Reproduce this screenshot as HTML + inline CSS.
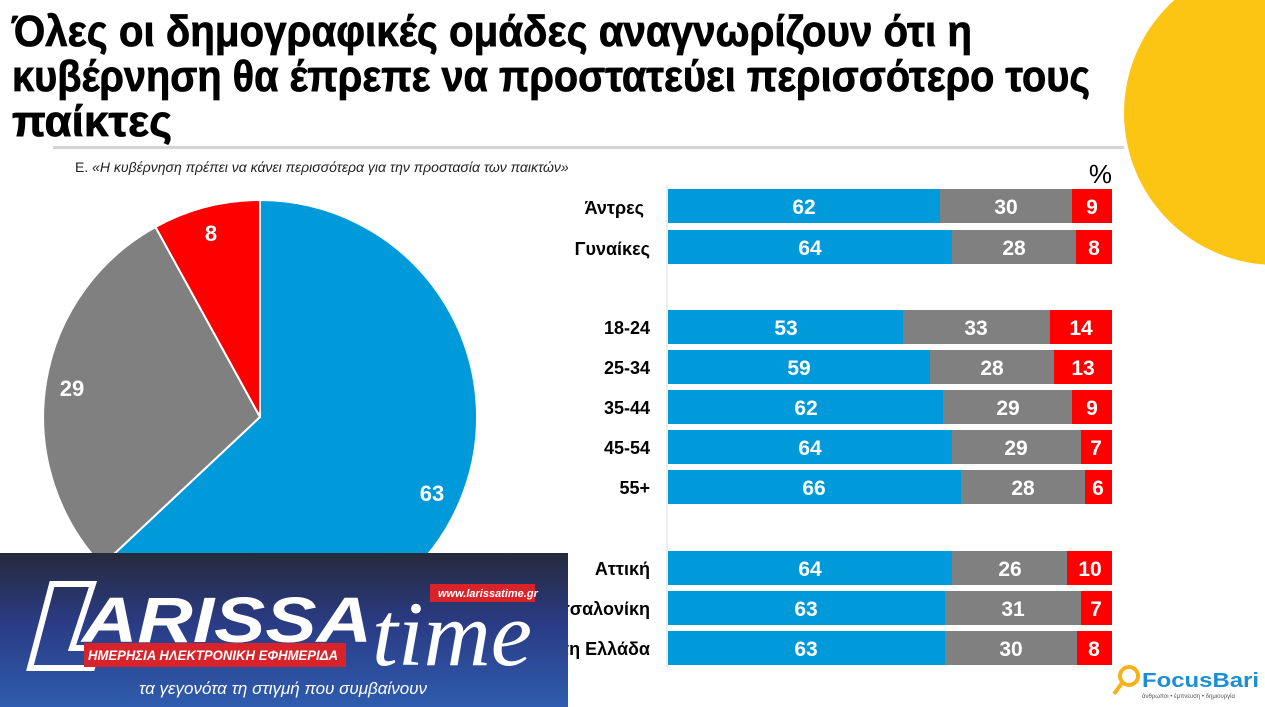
<!DOCTYPE html>
<html><head><meta charset="utf-8"><style>
html,body{margin:0;padding:0;background:#fff;}
svg{display:block;font-family:"Liberation Sans","DejaVu Sans",sans-serif;}
</style></head><body>
<svg width="1265" height="707" viewBox="0 0 1265 707" xmlns="http://www.w3.org/2000/svg">
<defs>
<linearGradient id="lg" x1="0" y1="0" x2="0" y2="1">
<stop offset="0" stop-color="#262a3c"/><stop offset="0.45" stop-color="#2a3b84"/><stop offset="1" stop-color="#2f5cae"/>
</linearGradient>
</defs>
<circle cx="1276" cy="113" r="152" fill="#fdc513"/>
<g font-weight="bold" font-size="44" fill="#000" stroke="#000" stroke-width="0.8">
<text x="12" y="46" textLength="960" lengthAdjust="spacingAndGlyphs">Όλες οι δημογραφικές ομάδες αναγνωρίζουν ότι η</text>
<text x="12" y="91" textLength="1078" lengthAdjust="spacingAndGlyphs">κυβέρνηση θα έπρεπε να προστατεύει περισσότερο τους</text>
<text x="12" y="136" textLength="160" lengthAdjust="spacingAndGlyphs">παίκτες</text>
</g>
<rect x="53" y="146" width="1071" height="3" fill="#d4d4d4"/>
<text x="75" y="172" font-size="14" fill="#222">Ε. <tspan font-style="italic">«Η κυβέρνηση πρέπει να κάνει περισσότερα για την προστασία των παικτών»</tspan></text>
<text x="1112" y="183" font-size="26" text-anchor="end" fill="#000">%</text>
<path d="M260,417 L260,200 A217,217 0 1,1 101.8,565.5 Z" fill="#009ada" stroke="#fff" stroke-width="2"/>
<path d="M260,417 L101.8,565.5 A217,217 0 0,1 155.5,227 Z" fill="#808080" stroke="#fff" stroke-width="2"/>
<path d="M260,417 L155.5,227 A217,217 0 0,1 260,200 Z" fill="#ff0000" stroke="#fff" stroke-width="2"/>
<g font-size="22" font-weight="bold" fill="#fff" text-anchor="middle">
<text x="432" y="501">63</text><text x="72" y="396">29</text><text x="211" y="241">8</text>
</g>
<line x1="667" y1="185" x2="667" y2="668" stroke="#ddd" stroke-width="1"/>
<g font-size="21" font-weight="bold" fill="#fff" text-anchor="middle">
<rect x="668" y="189" width="272" height="34" fill="#009ada"/><rect x="940" y="189" width="132" height="34" fill="#808080"/><rect x="1072" y="189" width="40" height="34" fill="#ff0000"/>
<text x="804" y="214">62</text><text x="1006" y="214">30</text><text x="1092" y="214">9</text>
<rect x="668" y="230" width="284" height="34" fill="#009ada"/><rect x="952" y="230" width="124" height="34" fill="#808080"/><rect x="1076" y="230" width="36" height="34" fill="#ff0000"/>
<text x="810" y="255">64</text><text x="1014" y="255">28</text><text x="1094" y="255">8</text>
<rect x="668" y="310" width="235" height="34" fill="#009ada"/><rect x="903" y="310" width="147" height="34" fill="#808080"/><rect x="1050" y="310" width="62" height="34" fill="#ff0000"/>
<text x="786" y="335">53</text><text x="976" y="335">33</text><text x="1081" y="335">14</text>
<rect x="668" y="350" width="262" height="34" fill="#009ada"/><rect x="930" y="350" width="124" height="34" fill="#808080"/><rect x="1054" y="350" width="58" height="34" fill="#ff0000"/>
<text x="799" y="375">59</text><text x="992" y="375">28</text><text x="1083" y="375">13</text>
<rect x="668" y="390" width="275" height="34" fill="#009ada"/><rect x="943" y="390" width="129" height="34" fill="#808080"/><rect x="1072" y="390" width="40" height="34" fill="#ff0000"/>
<text x="806" y="415">62</text><text x="1008" y="415">29</text><text x="1092" y="415">9</text>
<rect x="668" y="430" width="284" height="34" fill="#009ada"/><rect x="952" y="430" width="129" height="34" fill="#808080"/><rect x="1081" y="430" width="31" height="34" fill="#ff0000"/>
<text x="810" y="455">64</text><text x="1016" y="455">29</text><text x="1096" y="455">7</text>
<rect x="668" y="470" width="293" height="34" fill="#009ada"/><rect x="961" y="470" width="124" height="34" fill="#808080"/><rect x="1085" y="470" width="27" height="34" fill="#ff0000"/>
<text x="814" y="495">66</text><text x="1023" y="495">28</text><text x="1098" y="495">6</text>
<rect x="668" y="551" width="284" height="34" fill="#009ada"/><rect x="952" y="551" width="115" height="34" fill="#808080"/><rect x="1067" y="551" width="45" height="34" fill="#ff0000"/>
<text x="810" y="576">64</text><text x="1010" y="576">26</text><text x="1090" y="576">10</text>
<rect x="668" y="591" width="277" height="34" fill="#009ada"/><rect x="945" y="591" width="136" height="34" fill="#808080"/><rect x="1081" y="591" width="31" height="34" fill="#ff0000"/>
<text x="806" y="616">63</text><text x="1013" y="616">31</text><text x="1096" y="616">7</text>
<rect x="668" y="631" width="277" height="34" fill="#009ada"/><rect x="945" y="631" width="132" height="34" fill="#808080"/><rect x="1077" y="631" width="35" height="34" fill="#ff0000"/>
<text x="806" y="656">63</text><text x="1011" y="656">30</text><text x="1094" y="656">8</text>
</g>
<g font-size="18" font-weight="bold" fill="#000" text-anchor="end">
<text x="644" y="214">Άντρες</text><text x="650" y="255">Γυναίκες</text>
<text x="650" y="334">18-24</text><text x="650" y="374">25-34</text><text x="650" y="414">35-44</text><text x="650" y="454">45-54</text><text x="650" y="494">55+</text>
<text x="650" y="575">Αττική</text><text x="650" y="615">Θεσσαλονίκη</text><text x="650" y="655">Υπόλοιπη Ελλάδα</text>
</g>
<rect x="0" y="553" width="568" height="154" fill="url(#lg)"/>
<path d="M52,584 L93,584 L72,648 L98,648 L92,668 L30,668 Z" fill="none" stroke="#fff" stroke-width="6"/>
<text x="82" y="642" font-size="64" font-weight="bold" font-style="italic" fill="#fff" textLength="290" lengthAdjust="spacingAndGlyphs">ARISSA</text>
<text x="372" y="665" font-size="92" font-style="italic" font-family="Liberation Serif,serif" fill="#fff" textLength="160" lengthAdjust="spacingAndGlyphs">time</text>
<rect x="430" y="584" width="105" height="18" fill="#d9232a"/>
<text x="438" y="597" font-size="11" font-weight="bold" font-style="italic" fill="#fff">www.larissatime.gr</text>
<rect x="84" y="643" width="262" height="24" fill="#d9232a"/>
<text x="88" y="660" font-size="14" font-weight="bold" font-style="italic" fill="#fff" textLength="250" lengthAdjust="spacingAndGlyphs">ΗΜΕΡΗΣΙΑ ΗΛΕΚΤΡΟΝΙΚΗ ΕΦΗΜΕΡΙΔΑ</text>
<text x="283" y="694" font-size="17" font-style="italic" fill="#fff" text-anchor="middle">τα γεγονότα τη στιγμή που συμβαίνουν</text>
<circle cx="1129" cy="676" r="9" fill="none" stroke="#f7b21a" stroke-width="4"/>
<line x1="1122" y1="683" x2="1114" y2="694" stroke="#f7b21a" stroke-width="4"/>
<text x="1142" y="687" font-size="20" font-weight="bold" fill="#1a8fd6" textLength="117" lengthAdjust="spacingAndGlyphs">FocusBari</text>
<text x="1142" y="698" font-size="6" fill="#555">άνθρωποι • έμπνευση • δημιουργία</text>
</svg>
</body></html>
